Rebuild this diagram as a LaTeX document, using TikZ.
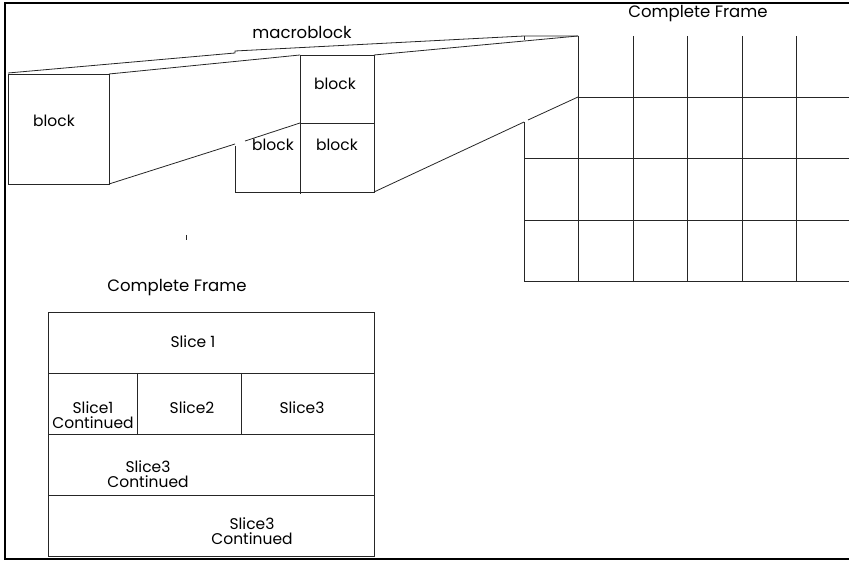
\documentclass[tikz,border=0pt]{standalone}
\usepackage{fontspec}
\setmainfont{Poppins}
\usetikzlibrary{positioning}

\begin{document}
\begin{tikzpicture}[
  x=1pt, y=-1pt,
  every node/.style={font=\fontsize{15.5}{15}\selectfont, inner sep=0pt, align=center},
  edge/.style={line width=0.8pt, black!85},
  frameline/.style={line width=2pt, black},
  lbl/.style={font=\fontsize{16.5}{16}\selectfont}
]
  \useasboundingbox (0,0) rectangle (849,561);
  % outer frame
  \draw[frameline] (852,3) -- (5,3) -- (5,559) -- (852,559);

  % block and its projection onto the macroblock
  \draw[edge] (8,74) rectangle (109,184);
  \draw[edge] (8,73) -- (235,53) -- (235,51) -- (524,36) -- (578,36);
  \draw[edge] (109,74) -- (300,55);
  \draw[edge] (109,184) -- (235,144);
  \draw[edge] (245,141) -- (300,123);
  \node (bigblock) at (54,121) {block};

  % macroblock (2x2 blocks, top-left one hidden)
  \draw[edge] (300,55) -- (374,55) -- (374,192) -- (235,192) -- (235,146);
  \draw[edge] (300,55) -- (300,194);
  \draw[edge] (300,123) -- (374,123);
  \node (blockTR) at (335,84) {block};
  \node (blockBL) at (273,145) {block};
  \node (blockBR) at (337,145) {block};
  \node[lbl] (macro) at (302,32) {macroblock};

  % projection of the macroblock onto the frame
  \draw[edge] (374,55) -- (578,36);
  \draw[edge] (374,192) -- (524,122);
  \draw[edge] (528,120) -- (578,97);

  % complete frame grid (runs past the right edge)
  \draw[edge] (524,36) -- (524,40);
  \draw[edge] (524,122) -- (524,281);
  \foreach \gx in {578,633,687,742,796}
    \draw[edge] (\gx,36) -- (\gx,281);
  \draw[edge] (578,97) -- (860,97);
  \foreach \gy in {158,220,281}
    \draw[edge] (524,\gy) -- (860,\gy);
  \node[lbl] (frametop) at (698,14) {Complete Frame};

  \draw[edge] (186,235) -- (186,240);

  % slices of the complete frame
  \node[lbl] (framelow) at (177,288) {Complete Frame};
  \draw[edge] (48,312) rectangle (374,556);
  \foreach \sy in {373,434,495}
    \draw[edge] (48,\sy) -- (374,\sy);
  \draw[edge] (137,373) -- (137,434);
  \draw[edge] (241,373) -- (241,434);
  \node (sliceA) at (193,342) {Slice 1};
  \node (sliceB) at (93,415) {Slice1\\Continued};
  \node (sliceC) at (192,408) {Slice2};
  \node (sliceD) at (302,408) {Slice3};
  \node (sliceE) at (148,474) {Slice3\\Continued};
  \node (sliceF) at (252,531) {Slice3\\Continued};
\end{tikzpicture}
\end{document}
